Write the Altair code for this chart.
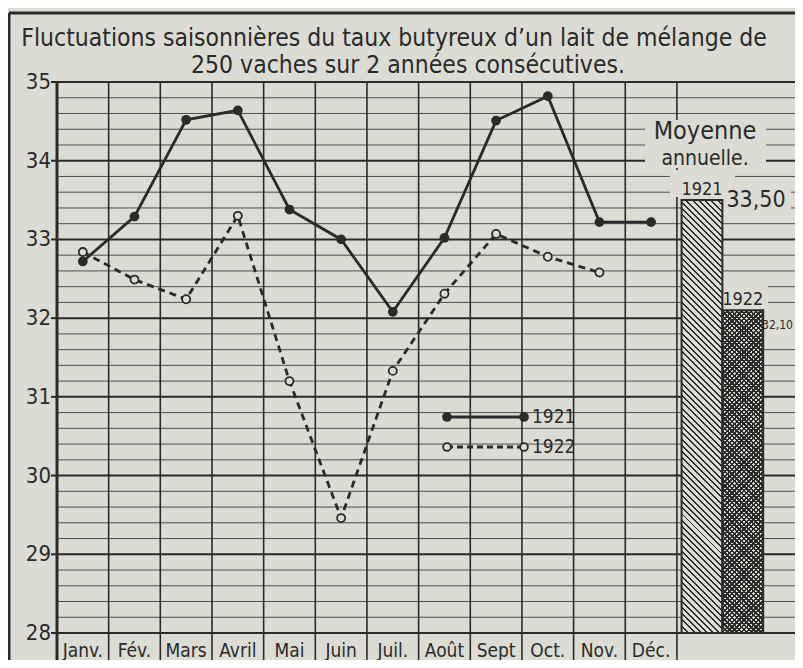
import math
import altair as alt
import pandas as pd

# ---------------- data ----------------
months = ["Janv.", "Fév.", "Mars", "Avril", "Mai", "Juin",
          "Juil.", "Août", "Sept", "Oct.", "Nov.", "Déc."]
taux_1921 = [32.72, 33.29, 34.52, 34.64, 33.38, 33.00,
             32.08, 33.02, 34.51, 34.82, 33.22, 33.22]
taux_1922 = [32.84, 32.49, 32.24, 33.30, 31.20, 29.46,
             31.33, 32.31, 33.07, 32.78, 32.58, None]
annees = ["1921", "1922"]
moyennes = [33.50, 32.10]
moyennes_txt = ["33,50", "32,10"]
y_ticks = [28, 29, 30, 31, 32, 33, 34, 35]
title_lines = ["Fluctuations saisonnières du taux butyreux d\u2019un lait de mélange de",
               "250 vaches sur 2 années consécutives."]

# ---------------- style ----------------
INK = "#2a2a2a"
PAPER = "#dcdcd5"
FONT = "DejaVu Sans Condensed, Liberation Sans Narrow, sans-serif"
W, H = 738, 551
PX_COL = 51.66
X_MAX = W / PX_COL
BAR_W = 0.79
BAR_X0 = 12.09

xs = alt.Scale(domain=[0, X_MAX], nice=False, zero=False)
ys = alt.Scale(domain=[28, 35], nice=False, zero=False)
px_x = PX_COL
px_y = H / 7.0

# ---------------- tables ----------------
rows = []
for i, m in enumerate(months):
    rows.append({"mois": m, "x": i + 0.5, "annee": "1921", "taux": taux_1921[i]})
    if taux_1922[i] is not None:
        rows.append({"mois": m, "x": i + 0.5, "annee": "1922", "taux": taux_1922[i]})
df = pd.DataFrame(rows)
df21 = df[df.annee == "1921"]
df22 = df[df.annee == "1922"]

bars = pd.DataFrame({
    "annee": annees,
    "moy": moyennes,
    "txt": moyennes_txt,
    "x0": [BAR_X0 + i * BAR_W for i in range(2)],
    "x1": [BAR_X0 + (i + 1) * BAR_W for i in range(2)],
    "base": [28, 28],
})
bars["xc"] = (bars.x0 + bars.x1) / 2

minor = pd.DataFrame({"v": [28 + k * 0.2 for k in range(36) if k % 5 != 0]})
major = pd.DataFrame({"v": y_ticks, "lab": [str(v) for v in y_ticks]})
cols = pd.DataFrame({"c": list(range(1, 13))})
mdf = pd.DataFrame({"mois": months, "x": [i + 0.5 for i in range(12)]})


def hatch(w, h, spacing, dark, direction, light):
    k = h / w
    d = (1 + k) / (1 + k * k)
    if direction == "back":
        x1, y1, x2, y2 = 0, 1, d, 1 - k * d
    else:
        x1, y1, x2, y2 = 0, 0, d, k * d
    n = int(round((w + h) / (math.sqrt(2) * spacing)))
    stops = []
    for i in range(n):
        a = i / n
        b = (i + dark) / n
        c = (i + 1) / n
        stops += [{"offset": a, "color": INK}, {"offset": b, "color": INK},
                  {"offset": b, "color": light}, {"offset": c, "color": light}]
    return {"gradient": "linear", "x1": x1, "y1": y1, "x2": x2, "y2": y2, "stops": stops}


w_bar = BAR_W * px_x
h21 = (moyennes[0] - 28) * px_y
h22 = (moyennes[1] - 28) * px_y

# ---------------- layers ----------------
grid_minor = alt.Chart(minor).mark_rule(color=INK, strokeWidth=1, opacity=0.8).encode(
    x=alt.value(0), x2=alt.value(W),
    y=alt.Y("v:Q", scale=ys, axis=None))

grid_major = alt.Chart(major).mark_rule(color=INK, strokeWidth=2).encode(
    x=alt.value(0), x2=alt.value(W),
    y=alt.Y("v:Q", scale=ys, axis=None))

ticks = alt.Chart(major).mark_rule(color=INK, strokeWidth=2).encode(
    x=alt.value(-6), x2=alt.value(0),
    y=alt.Y("v:Q", scale=ys, axis=None))

ylabels = alt.Chart(major).mark_text(font=FONT, fontSize=22, color=INK, align="right",
                                     baseline="middle").encode(
    x=alt.value(-6), y=alt.Y("v:Q", scale=ys, axis=None), text="lab:N")

vlines = alt.Chart(cols).mark_rule(color=INK, strokeWidth=1.6).encode(
    x=alt.X("c:Q", scale=xs, axis=None),
    y=alt.value(0), y2=alt.value(H + 30))

axis_line = alt.Chart(cols.head(1)).mark_rule(color=INK, strokeWidth=3).encode(
    x=alt.value(0), y=alt.value(0), y2=alt.value(H + 30))

blocks = pd.DataFrame({
    "x0": [588, 613, 666, 659, 706],
    "x1": [709, 678, 734, 711, W],
    "y0": [38, 88, 104, 201, 231],
    "y1": [86, 115, 131, 227, 253],
})
blk = alt.Chart(blocks).mark_rect(color=PAPER).encode(
    x=alt.X("x0:Q", scale=None, axis=None), x2="x1:Q",
    y=alt.Y("y0:Q", scale=None, axis=None), y2="y1:Q")

bar21 = alt.Chart(bars[bars.annee == "1921"]).mark_bar(
    fill=hatch(w_bar, h21, 4.4, 0.32, "back", PAPER), stroke=INK, strokeWidth=2).encode(
    x=alt.X("x0:Q", scale=xs, axis=None), x2="x1:Q",
    y=alt.Y("moy:Q", scale=ys, axis=None), y2="base:Q")

bar22a = alt.Chart(bars[bars.annee == "1922"]).mark_bar(
    fill=hatch(w_bar, h22, 3.4, 0.5, "back", PAPER)).encode(
    x=alt.X("x0:Q", scale=xs, axis=None), x2="x1:Q",
    y=alt.Y("moy:Q", scale=ys, axis=None), y2="base:Q")
bar22b = alt.Chart(bars[bars.annee == "1922"]).mark_bar(
    fill=hatch(w_bar, h22, 3.4, 0.5, "fwd", "rgba(0,0,0,0)"), stroke=INK, strokeWidth=2).encode(
    x=alt.X("x0:Q", scale=xs, axis=None), x2="x1:Q",
    y=alt.Y("moy:Q", scale=ys, axis=None), y2="base:Q")

line21 = alt.Chart(df21).mark_line(color=INK, strokeWidth=2.8).encode(
    x=alt.X("x:Q", scale=xs, axis=None), y=alt.Y("taux:Q", scale=ys, axis=None))
pts21 = alt.Chart(df21).mark_point(filled=True, color=INK, size=95, opacity=1).encode(
    x=alt.X("x:Q", scale=xs, axis=None), y=alt.Y("taux:Q", scale=ys, axis=None))
line22 = alt.Chart(df22).mark_line(color=INK, strokeWidth=2.8, strokeDash=[7, 5]).encode(
    x=alt.X("x:Q", scale=xs, axis=None), y=alt.Y("taux:Q", scale=ys, axis=None))
pts22 = alt.Chart(df22).mark_point(filled=True, fill=PAPER, stroke=INK, strokeWidth=1.8,
                                   size=65, opacity=1).encode(
    x=alt.X("x:Q", scale=xs, axis=None), y=alt.Y("taux:Q", scale=ys, axis=None))

# legend (hand drawn as in the original)
leg = pd.DataFrame({"annee": annees, "yy": [335, 365]})
leg21 = leg[leg.annee == "1921"]
leg22 = leg[leg.annee == "1922"]
legl21 = alt.Chart(leg21).mark_rule(color=INK, strokeWidth=2.8).encode(
    x=alt.value(390), x2=alt.value(467), y=alt.Y("yy:Q", scale=None, axis=None))
legl22 = alt.Chart(leg22).mark_rule(color=INK, strokeWidth=2.8, strokeDash=[6, 4]).encode(
    x=alt.value(390), x2=alt.value(467), y=alt.Y("yy:Q", scale=None, axis=None))
legp21a = alt.Chart(leg21).mark_point(filled=True, color=INK, size=95, opacity=1).encode(
    x=alt.value(390), y=alt.Y("yy:Q", scale=None, axis=None))
legp21b = alt.Chart(leg21).mark_point(filled=True, color=INK, size=95, opacity=1).encode(
    x=alt.value(467), y=alt.Y("yy:Q", scale=None, axis=None))
legp22a = alt.Chart(leg22).mark_point(filled=True, fill=PAPER, stroke=INK, strokeWidth=1.8,
                                      size=60, opacity=1).encode(
    x=alt.value(390), y=alt.Y("yy:Q", scale=None, axis=None))
legp22b = alt.Chart(leg22).mark_point(filled=True, fill=PAPER, stroke=INK, strokeWidth=1.8,
                                      size=60, opacity=1).encode(
    x=alt.value(467), y=alt.Y("yy:Q", scale=None, axis=None))
legt = alt.Chart(leg).mark_text(font=FONT, fontSize=19, color=INK, align="left",
                                baseline="middle").encode(
    x=alt.value(475), y=alt.Y("yy:Q", scale=None, axis=None), text="annee:N")

# annotations of the annual means
moy_t1 = alt.Chart(pd.DataFrame({"t": ["Moyenne"]})).mark_text(
    font=FONT, fontSize=25, color=INK, align="center", baseline="alphabetic").encode(
    x=alt.value(648), y=alt.value(57), text="t:N")
moy_t2 = alt.Chart(pd.DataFrame({"t": ["annuelle."]})).mark_text(
    font=FONT, fontSize=21, color=INK, align="center", baseline="alphabetic").encode(
    x=alt.value(648), y=alt.value(83), text="t:N")
yr_lab = alt.Chart(bars).mark_text(font=FONT, fontSize=18, color=INK, align="center",
                                   baseline="alphabetic", dy=-5).encode(
    x=alt.X("xc:Q", scale=xs, axis=None), y=alt.Y("moy:Q", scale=ys, axis=None), text="annee:N")
val21 = alt.Chart(bars[bars.annee == "1921"]).mark_text(
    font=FONT, fontSize=23, color=INK, align="left", baseline="alphabetic", dx=4, dy=7).encode(
    x=alt.X("x1:Q", scale=xs, axis=None), y=alt.Y("moy:Q", scale=ys, axis=None), text="txt:N")
val22 = alt.Chart(bars[bars.annee == "1922"]).mark_text(
    font=FONT, fontSize=12, color=INK, align="right", baseline="alphabetic", dy=19).encode(
    x=alt.value(W - 2), y=alt.Y("moy:Q", scale=ys, axis=None), text="txt:N")

mlab = alt.Chart(mdf).mark_text(font=FONT, fontSize=19, color=INK,
                                align="center", baseline="middle").encode(
    x=alt.X("x:Q", scale=xs, axis=None), y=alt.value(H + 18), text="mois:N")

tdf = pd.DataFrame({"t": title_lines, "tx": [337, 351], "ty": [-36, -9]})
title = alt.Chart(tdf).mark_text(font=FONT, fontSize=24.5, color=INK, align="center",
                                 baseline="alphabetic").encode(
    x=alt.X("tx:Q", scale=None, axis=None), y=alt.Y("ty:Q", scale=None, axis=None), text="t:N")

frame_l = alt.Chart(cols.head(1)).mark_rule(color=INK, strokeWidth=3).encode(
    x=alt.value(-48), y=alt.value(-69), y2=alt.value(H + 30))
frame_t = alt.Chart(cols.head(1)).mark_rule(color=INK, strokeWidth=3).encode(
    x=alt.value(-48), x2=alt.value(W), y=alt.value(-69))

chart = alt.layer(
    grid_minor, grid_major, ticks, ylabels, vlines, axis_line, blk,
    bar21, bar22a, bar22b,
    line22, line21, pts22, pts21,
    legl21, legl22, legp21a, legp21b, legp22a, legp22b, legt,
    moy_t1, moy_t2, yr_lab, val21, val22, mlab, title, frame_l, frame_t,
).properties(
    width=W, height=H,
    padding={"left": 49, "top": 74, "right": 0, "bottom": 27},
    autosize="none",
    background=PAPER,
).configure_view(stroke=None)

chart.save("out.html", embed_options={"renderer": "svg", "actions": False})
